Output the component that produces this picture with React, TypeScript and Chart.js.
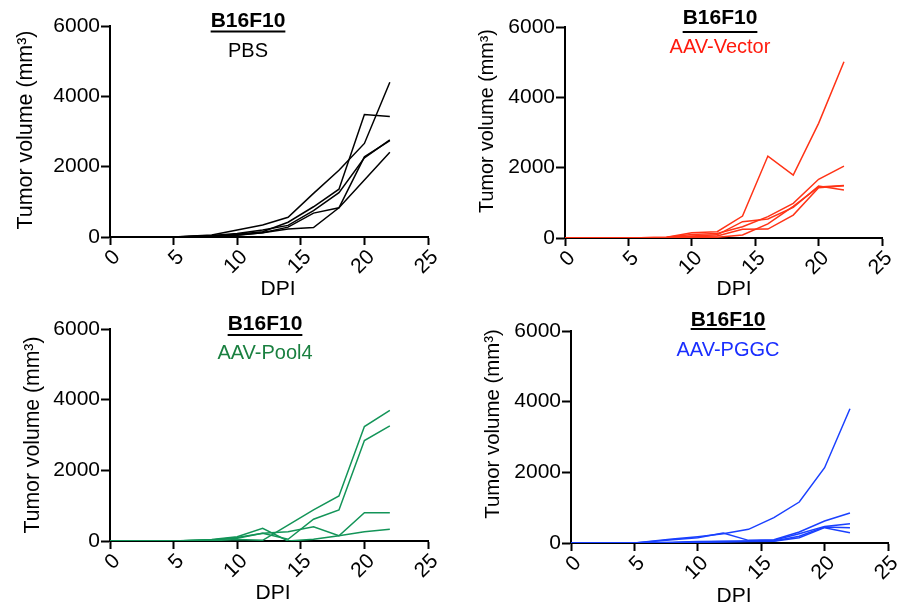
import React, { useEffect, useRef } from "react";
import { Chart, registerables } from "chart.js";
Chart.register(...registerables);

const DAYS = [0, 5, 8, 10, 12, 14, 16, 18, 20, 22];
const X_MIN = 0, X_MAX = 25, X_STEP = 5;
const Y_MIN = 0, Y_MAX = 6000, Y_STEP = 2000;
const MAIN_TITLE = "B16F10";
const Y_TITLE = "Tumor volume (mm³)";
const X_TITLE = "DPI";

const PBS_A = [0, 0, 60, 200, 340, 560, 1240, 1900, 2660, 4400];
const PBS_B = [0, 0, 30, 80, 150, 420, 860, 1360, 3480, 3430];
const PBS_C = [0, 0, 20, 60, 120, 280, 680, 830, 2280, 2740];
const PBS_D = [0, 0, 20, 50, 120, 230, 270, 830, 1620, 2410];
const PBS_E = [0, 0, 40, 100, 200, 330, 750, 1260, 2250, 2760];

const VEC_A = [0, 0, 20, 150, 180, 625, 2330, 1790, 3260, 5010];
const VEC_B = [0, 0, 20, 100, 130, 322, 606, 985, 1670, 2045];
const VEC_C = [0, 0, 10, 60, 90, 464, 540, 870, 1477, 1363];
const VEC_D = [0, 0, 10, 40, 60, 246, 255, 653, 1430, 1487];
const VEC_E = [0, 0, 5, 20, 20, 85, 400, 900, 1450, 1490];

const POOL_A = [0, 0, 10, 40, 20, 450, 880, 1275, 3240, 3695];
const POOL_B = [0, 0, 30, 80, 220, 50, 615, 880, 2845, 3260];
const POOL_C = [0, 0, 40, 120, 360, 0, 50, 150, 800, 800];
const POOL_D = [0, 0, 30, 100, 220, 265, 400, 150, 265, 330];

const PGGC_A = [0, 0, 110, 180, 264, 387, 717, 1160, 2130, 3800];
const PGGC_B = [0, 0, 90, 150, 283, 75, 95, 311, 622, 850];
const PGGC_C = [0, 0, 20, 40, 50, 60, 75, 264, 470, 547];
const PGGC_D = [0, 0, 10, 30, 40, 50, 60, 190, 452, 434];
const PGGC_E = [0, 0, 10, 20, 30, 40, 50, 150, 434, 292];

const FONT = "'Liberation Sans', Arial, sans-serif";

type Panel = {
  sub: string;
  lineColor: string;
  subColor: string;
  series: number[][];
  left: number;
  top: number;
  area: { l: number; r: number; t: number; b: number };
  titleX: number; titleY: number; ulY: number; subY: number;
  dpiX: number; dpiY: number;
  yTitleX: number; yTitleY: number; yTitleSize: number;
};

const PANELS: Panel[] = [
  {
    sub: "PBS", lineColor: "#000000", subColor: "#000000",
    series: [PBS_A, PBS_B, PBS_C, PBS_D, PBS_E],
    left: 0, top: 0, area: { l: 110, r: 428, t: 26, b: 237 },
    titleX: 248, titleY: 27, ulY: 31.5, subY: 57,
    dpiX: 278, dpiY: 295, yTitleX: 32, yTitleY: 130, yTitleSize: 21.4,
  },
  {
    sub: "AAV-Vector", lineColor: "#ff3316", subColor: "#ff1a0d",
    series: [VEC_A, VEC_B, VEC_C, VEC_D, VEC_E],
    left: 454, top: 0, area: { l: 111, r: 428, t: 27, b: 238 },
    titleX: 266, titleY: 24, ulY: 32, subY: 53,
    dpiX: 280, dpiY: 295, yTitleX: 39, yTitleY: 121, yTitleSize: 19.8,
  },
  {
    sub: "AAV-Pool4", lineColor: "#139458", subColor: "#1a8040",
    series: [POOL_A, POOL_B, POOL_C, POOL_D],
    left: 0, top: 304, area: { l: 110, r: 428, t: 25, b: 237 },
    titleX: 265, titleY: 26, ulY: 31, subY: 55,
    dpiX: 273, dpiY: 295, yTitleX: 39, yTitleY: 131, yTitleSize: 21.2,
  },
  {
    sub: "AAV-PGGC", lineColor: "#1a40ff", subColor: "#1a2eff",
    series: [PGGC_A, PGGC_B, PGGC_C, PGGC_D, PGGC_E],
    left: 454, top: 304, area: { l: 117, r: 434, t: 27, b: 239 },
    titleX: 274, titleY: 22, ulY: 25, subY: 52,
    dpiX: 280, dpiY: 298, yTitleX: 45, yTitleY: 120, yTitleSize: 20.4,
  },
];

const W = 454, H = 304;

function PanelChart({ p }: { p: Panel }) {
  const ref = useRef<HTMLCanvasElement | null>(null);
  useEffect(() => {
    if (!ref.current) return;
    const textPlugin = {
      id: "panelText",
      afterDraw(chart: any) {
        const ctx = chart.ctx as CanvasRenderingContext2D;
        ctx.save();
        ctx.fillStyle = "#000";
        ctx.textAlign = "center";
        ctx.textBaseline = "alphabetic";
        ctx.font = `bold 21px ${FONT}`;
        ctx.fillText(MAIN_TITLE, p.titleX, p.titleY);
        const w = ctx.measureText(MAIN_TITLE).width;
        ctx.fillRect(p.titleX - w / 2, p.ulY - 1, w, 2);
        ctx.font = `20px ${FONT}`;
        ctx.fillStyle = p.subColor;
        ctx.fillText(p.sub, p.titleX, p.subY);
        ctx.fillStyle = "#000";
        ctx.font = `21px ${FONT}`;
        ctx.fillText(X_TITLE, p.dpiX, p.dpiY);
        ctx.translate(p.yTitleX, p.yTitleY);
        ctx.rotate(-Math.PI / 2);
        ctx.font = `${p.yTitleSize}px ${FONT}`;
        ctx.fillText(Y_TITLE, 0, 0);
        ctx.restore();
      },
    };
    const chart = new Chart(ref.current, {
      type: "line",
      data: {
        datasets: p.series.map((s, i) => ({
          label: `${p.sub} ${i + 1}`,
          data: DAYS.map((d, j) => ({ x: d, y: s[j] })),
          borderColor: p.lineColor,
          backgroundColor: p.lineColor,
          borderWidth: 1.5,
          pointRadius: 0,
          tension: 0,
          fill: false,
        })),
      },
      options: {
        responsive: false,
        animation: false,
        events: [],
        layout: {
          autoPadding: false,
          padding: { left: 0, top: p.area.t, right: W - p.area.r, bottom: 0 },
        },
        plugins: { legend: { display: false }, tooltip: { enabled: false }, title: { display: false } },
        scales: {
          x: {
            type: "linear",
            min: X_MIN, max: X_MAX,
            afterFit: (s: any) => { s.height = H - p.area.b; },
            border: { display: true, color: "#000", width: 2 },
            grid: { drawOnChartArea: false, drawTicks: true, tickLength: 8, tickColor: "#000", tickWidth: 2 },
            ticks: {
              stepSize: X_STEP, minRotation: 45, maxRotation: 45, autoSkip: false,
              labelOffset: 7, padding: 0,
              color: "#000", font: { family: FONT, size: 21 },
              callback: (v: any) => String(v),
            },
          },
          y: {
            type: "linear",
            min: Y_MIN, max: Y_MAX,
            afterFit: (s: any) => { s.width = p.area.l; },
            border: { display: true, color: "#000", width: 2 },
            grid: { drawOnChartArea: false, drawTicks: true, tickLength: 9, tickColor: "#000", tickWidth: 2 },
            ticks: {
              stepSize: Y_STEP, padding: 1,
              color: "#000", font: { family: FONT, size: 21 },
              callback: (v: any) => String(v),
            },
          },
        },
      },
      plugins: [textPlugin],
    } as any);
    return () => chart.destroy();
  }, [p]);
  return (
    <div style={{ position: "absolute", left: p.left, top: p.top, width: W, height: H }}>
      <canvas ref={ref} width={W} height={H} style={{ width: W, height: H, display: "block" }} />
    </div>
  );
}

export default function App() {
  return (
    <div style={{ position: "absolute", left: 0, top: 0, width: 908, height: 608, background: "#fff" }}>
      {PANELS.map((p, i) => (
        <PanelChart key={i} p={p} />
      ))}
    </div>
  );
}
